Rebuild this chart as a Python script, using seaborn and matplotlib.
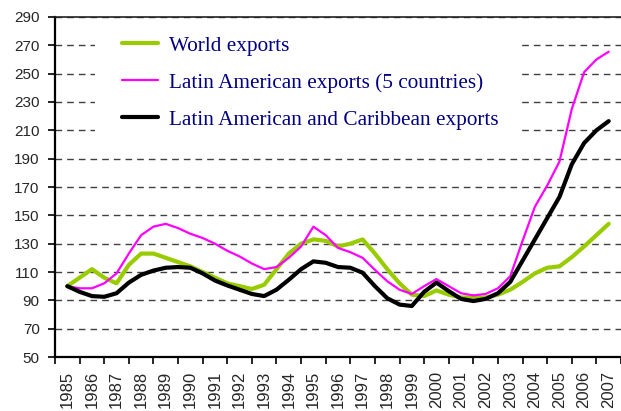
import numpy as np
import pandas as pd
import seaborn as sns
import matplotlib.pyplot as plt
from matplotlib.patches import Rectangle

# half-year readings, 1985 = 100
periods = np.arange(1985, 2007.5, 0.5)

world = [100, 106, 112, 106, 102, 115, 123, 123, 120, 117,
         114, 110, 106, 102, 100, 98, 101, 112, 123, 130,
         133, 132, 128, 130, 133, 123, 112, 102, 94, 93,
         97, 94, 92, 92, 92, 94, 97.5, 103, 109, 113,
         114, 120.5, 128, 136, 144]
latam5 = [100, 98.5, 98.5, 102, 109, 123, 136, 142, 144, 141,
          137, 134, 130, 125, 121, 116, 112, 113.5, 120, 128,
          142, 136, 127, 124, 120, 111.5, 103.5, 97.5, 94.5, 100,
          105, 100, 95, 93.5, 94.5, 98.5, 107, 132, 156, 171,
          188, 225, 251, 260, 265.5]
latam_carib = [100, 96, 93, 92.5, 95, 102.5, 108, 111, 113, 113.5,
               113, 109, 104, 100.5, 97.5, 94.5, 93, 97.5, 104.5, 112,
               117.5, 116.5, 113.5, 113, 109.5, 100, 91.5, 87, 86, 96,
               102.5, 96.5, 91, 89.5, 91, 95, 103, 118, 133, 148,
               163, 186, 201, 210, 216.5]

series_names = ["World exports",
                "Latin American exports (5 countries)",
                "Latin American and Caribbean exports"]
year_labels = [str(y) for y in range(1985, 2008)]
y_ticks = list(range(50, 291, 20))

df = pd.DataFrame({
    "period": np.tile(periods, 3),
    "index": world + latam5 + latam_carib,
    "series": np.repeat(series_names, len(periods)),
})

sns.set_style("white")
plt.rcParams["font.family"] = ["Liberation Sans", "DejaVu Sans"]

fig = plt.figure(figsize=(6.21, 4.11), dpi=100)
ax = fig.add_axes([55 / 621, 54 / 411, 566 / 621, 340 / 411])

colors = ["#99CC00", "#FF00FF", "#000000"]
widths = [3.0, 1.6, 3.0]
for name, col, lw in zip(series_names, colors, widths):
    sns.lineplot(data=df[df["series"] == name], x="period", y="index",
                 color=col, linewidth=lw, label=name, ax=ax,
                 solid_joinstyle="round", solid_capstyle="round", zorder=3)

ax.set_xlim(1984.5, 2007.5)
ax.set_ylim(50, 290)
ax.set_yticks(y_ticks)
ax.set_yticklabels([str(v) for v in y_ticks], fontsize=11)

# tick marks between years, labels centred on each year
ax.set_xticks(np.arange(1984.5, 2008, 1.0))
ax.set_xticklabels([])
ax.set_xticks(range(1985, 2008), minor=True)
ax.set_xticklabels(year_labels, minor=True, rotation=90, fontsize=12)
ax.tick_params(axis="x", which="major", direction="out", length=5, width=1.2,
               color="black", bottom=True)
ax.tick_params(axis="x", which="minor", length=0, pad=10)
ax.tick_params(axis="y", direction="out", length=5, width=1.2, color="black",
               left=True, pad=6)
ax.set_xlabel("")
ax.set_ylabel("")

ax.set_axisbelow(True)
ax.grid(axis="y", color="#404040", linewidth=1.0, linestyle=(0, (4.8, 3.6)))
ax.grid(axis="x", visible=False)

for side in ["left", "bottom"]:
    ax.spines[side].set_color("black")
    ax.spines[side].set_linewidth(1.6)
ax.spines["top"].set_color("#222222")
ax.spines["top"].set_linewidth(1.2)
ax.spines["right"].set_visible(False)

# white box behind the legend hides the grid there
ax.add_patch(Rectangle((0.0707, 0.632), 0.751, 0.338, transform=ax.transAxes,
                       facecolor="white", edgecolor="none", zorder=1))

leg = ax.legend(loc="upper left", bbox_to_anchor=(0.1184, 0.944),
                frameon=False, borderpad=0, borderaxespad=0,
                handlelength=1.7, handletextpad=0.5, labelspacing=0.8,
                prop={"family": "Liberation Serif", "size": 15.3})
for text in leg.get_texts():
    text.set_color("#000080")

plt.savefig("out.png", dpi=100)
plt.close()
